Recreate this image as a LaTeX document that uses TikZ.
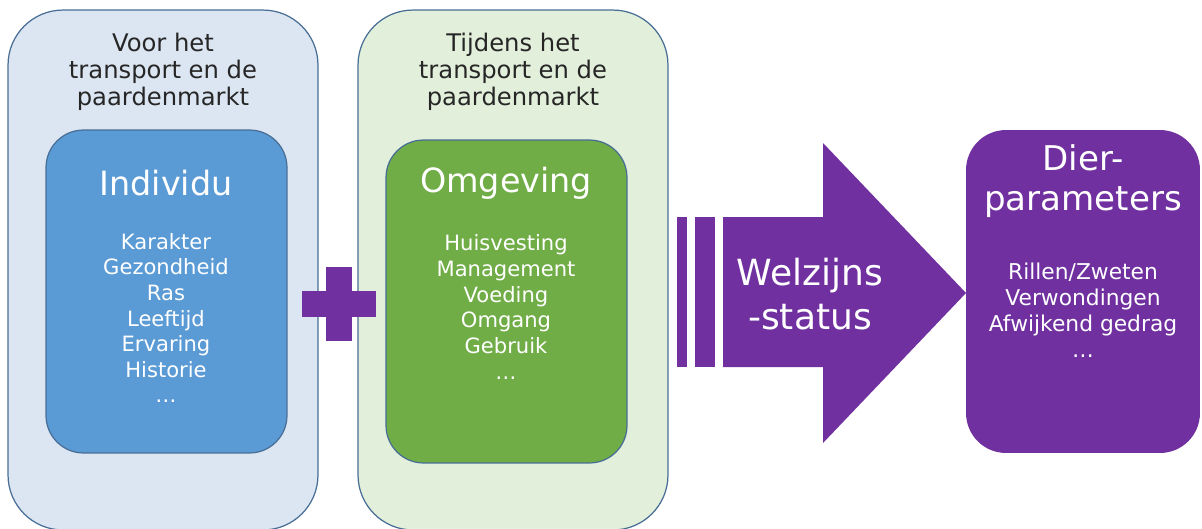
\documentclass[tikz,border=0pt]{standalone}
\usepackage{fontspec}
\setmainfont{DejaVu Sans}
\usepackage{tikz}
\usetikzlibrary{positioning}

\definecolor{voorfill}{RGB}{220,230,242}
\definecolor{tijdfill}{RGB}{226,239,218}
\definecolor{rand}{RGB}{72,110,150}
\definecolor{indblue}{RGB}{91,155,213}
\definecolor{omggreen}{RGB}{112,173,71}
\definecolor{paars}{RGB}{112,48,160}

\begin{document}
\begin{tikzpicture}
[x=0.02cm,y=-0.02cm]
\tikzset{outerbox/.style={draw=rand, line width=0.7pt, rounded corners=1.1cm, minimum width=6.2cm, minimum height=10.4cm, inner sep=0pt}}
\tikzset{innerbox/.style={draw=rand, line width=0.7pt, rounded corners=0.75cm, minimum width=4.82cm, minimum height=6.46cm, inner sep=0pt}}
\tikzset{kop/.style={align=center, text=black!85, font=\fontsize{13.8}{15.4}\selectfont}}
\tikzset{titel/.style={text=white, font=\fontsize{19}{22}\selectfont}}
\tikzset{lijst/.style={text=white, align=center, font=\fontsize{12}{14.6}\selectfont}}
\useasboundingbox (0,0) rectangle (1202,528);
\clip (0,0) rectangle (1202,528);
% buitenste vakken
\node [outerbox, fill=voorfill] (voor) at (163,270) {};
\node [outerbox, fill=tijdfill] (tijdens) at (513,270) {};
\node [kop] (voorkop) at (163,72) {Voor het\\transport en de\\paardenmarkt};
\node [kop] (tijdkop) at (513,72) {Tijdens het\\transport en de\\paardenmarkt};
% binnenste vakken
\node [innerbox, fill=indblue] (individu) at (166.5,291.5) {};
\node [innerbox, fill=omggreen] (omgeving) at (506.5,301.5) {};
\node [titel] (indtitel) at (166,183) {Individu};
\node [titel] (omgtitel) at (506,183) {Omgeving};
\node [lijst] (indlijst) at (166,318) {Karakter\\Gezondheid\\Ras\\Leeftijd\\Ervaring\\Historie\\…};
\node [lijst] (omglijst) at (506,307) {Huisvesting\\Management\\Voeding\\Omgang\\Gebruik\\…};
% plusteken
\fill [paars] (302,291) rectangle (376,317);
\fill [paars] (326,267) rectangle (352,341);
% pijl
\foreach \x/\w in {677/10,695/20}
	\fill [paars] (\x,217) rectangle ++(\w,150);
\fill [paars] (723,217) -- (823,217) -- (823,143) -- (966,293) -- (823,443) -- (823,367) -- (723,367) -- cycle;
\node [text=white, align=center, font=\fontsize{20.5}{25}\selectfont] (welzijn) at (810,294) {Welzijns\\-status};
% dierparameters
\node [fill=paars, rounded corners=0.8cm, minimum width=4.68cm, minimum height=6.46cm, inner sep=0pt] (dier) at (1083,291.5) {};
\node [text=white, align=center, font=\fontsize{19.4}{22.8}\selectfont] (diertitel) at (1083,181) {Dier-\\parameters};
\node [lijst, font=\fontsize{12.4}{14.8}\selectfont] (dierlijst) at (1083,310) {Rillen/Zweten\\Verwondingen\\Afwijkend gedrag\\…};
\end{tikzpicture}
\end{document}
